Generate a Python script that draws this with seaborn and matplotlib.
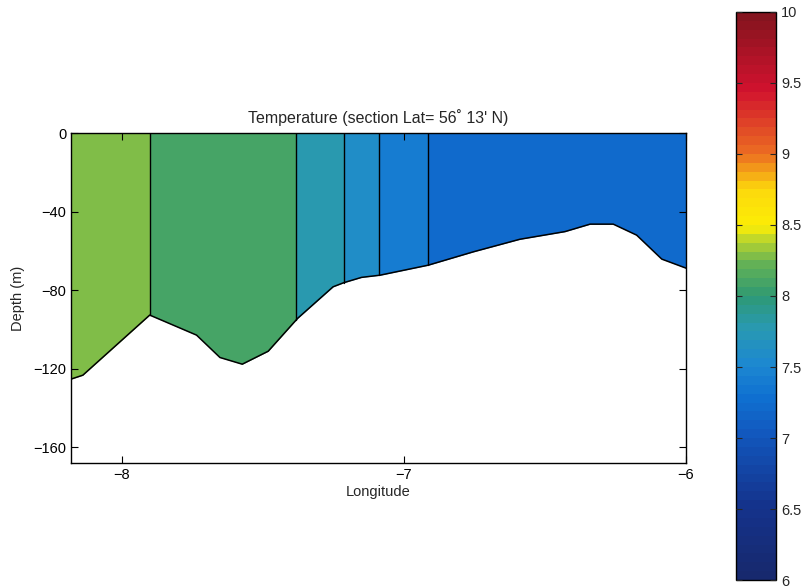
import numpy as np
import matplotlib
matplotlib.use("Agg")
import matplotlib.pyplot as plt
from matplotlib.colors import LinearSegmentedColormap, ListedColormap, Normalize
import seaborn as sns

# Station boundaries (longitude) and the temperature of each water column
station_edges = [-8.18, -7.901, -7.383, -7.213, -7.089, -6.915, -6.0]
column_temps = [8.30, 8.08, 7.80, 7.58, 7.42, 7.20]

# Bottom profile along the section
bathy_lon = [-8.18, -8.138, -7.901, -7.735, -7.652, -7.573, -7.481, -7.377,
             -7.251, -7.213, -7.150, -7.085, -6.914, -6.754, -6.589, -6.429,
             -6.340, -6.258, -6.175, -6.086, -6.0]
bathy_depth = [-125.3, -123.3, -92.7, -102.9, -114.3, -117.7, -111.1, -94.4,
               -78.3, -76.2, -73.5, -72.4, -67.3, -60.5, -54.1, -50.2,
               -46.4, -46.4, -52.0, -64.2, -68.8]

x_ticks = [-8, -7, -6]
y_ticks = [0, -40, -80, -120, -160]
cbar_ticks = [6, 6.5, 7, 7.5, 8, 8.5, 9, 9.5, 10]
cbar_labels = ["6", "6.5", "7", "7.5", "8", "8.5", "9", "9.5", "10"]

sns.set_style("ticks")
plt.rcParams["font.family"] = ["Liberation Sans", "DejaVu Sans"]
plt.rcParams["xtick.direction"] = "in"
plt.rcParams["ytick.direction"] = "in"

# Jet-like palette, quantised into 64 bands
anchors = [
    (0.000, (0.09, 0.16, 0.43)),
    (0.125, (0.08, 0.20, 0.55)),
    (0.250, (0.07, 0.34, 0.74)),
    (0.320, (0.06, 0.44, 0.82)),
    (0.375, (0.11, 0.53, 0.82)),
    (0.440, (0.16, 0.60, 0.70)),
    (0.500, (0.18, 0.60, 0.45)),
    (0.560, (0.40, 0.70, 0.33)),
    (0.600, (0.72, 0.83, 0.18)),
    (0.625, (0.99, 0.93, 0.02)),
    (0.690, (0.99, 0.85, 0.05)),
    (0.750, (0.93, 0.45, 0.13)),
    (0.870, (0.82, 0.07, 0.18)),
    (1.000, (0.52, 0.08, 0.12)),
]
base = LinearSegmentedColormap.from_list("section_jet", anchors)
cmap = ListedColormap(base(np.linspace(0, 1, 64)))
norm = Normalize(vmin=6, vmax=10)

fig = plt.figure(figsize=(8.05, 5.88), dpi=100)
ax = fig.add_axes([0.0882, 0.2126, 0.764, 0.5612])
cax = fig.add_axes([0.9143, 0.0136, 0.0497, 0.966])
ax.set_axisbelow(False)

ymin, ymax = -168, 0
mesh = ax.pcolormesh(station_edges, [ymin, ymax],
                     np.array(column_temps)[None, :], cmap=cmap, norm=norm,
                     shading="flat", zorder=1)

# Seabed masked in white
ax.fill_between(bathy_lon, bathy_depth, ymin, color="white", zorder=2, lw=0)
sns.lineplot(x=bathy_lon, y=bathy_depth, sort=False, color="black", lw=1.1,
             ax=ax, zorder=3)

# Station dividers from the surface to the bottom
for lon in station_edges[1:-1]:
    bottom = np.interp(lon, bathy_lon, bathy_depth)
    ax.plot([lon, lon], [0, bottom], color="black", lw=1.0, zorder=3)

ax.set_xlim(station_edges[0], station_edges[-1])
ax.set_ylim(ymin, ymax)
ax.set_xticks(x_ticks)
ax.set_xticklabels(["\u22128", "\u22127", "\u22126"])
ax.set_yticks(y_ticks)
ax.set_yticklabels(["0", "\u221240", "\u221280", "\u2212120", "\u2212160"])
ax.tick_params(axis="both", labelsize=10.5, length=5, width=0.8,
               top=True, right=True, colors="black")
for s in ax.spines.values():
    s.set_visible(True)
    s.set_linewidth(1.0)
    s.set_color("black")
    s.set_zorder(4)
ax.set_xlabel("Longitude", fontsize=10.5, labelpad=2)
ax.set_ylabel("Depth (m)", fontsize=10.5, labelpad=6)
ax.set_title("Temperature (section Lat= 56\u02da 13' N)", fontsize=11.5, pad=7)

cb = fig.colorbar(mesh, cax=cax)
cb.set_ticks(cbar_ticks)
cb.set_ticklabels(cbar_labels)
cb.outline.set_linewidth(1.0)
cb.outline.set_edgecolor("black")
cax.set_axisbelow(False)
cax.tick_params(labelsize=10.5, direction="in", length=4, width=0.8,
                left=True, right=True)

fig.savefig("out.png", dpi=100)
